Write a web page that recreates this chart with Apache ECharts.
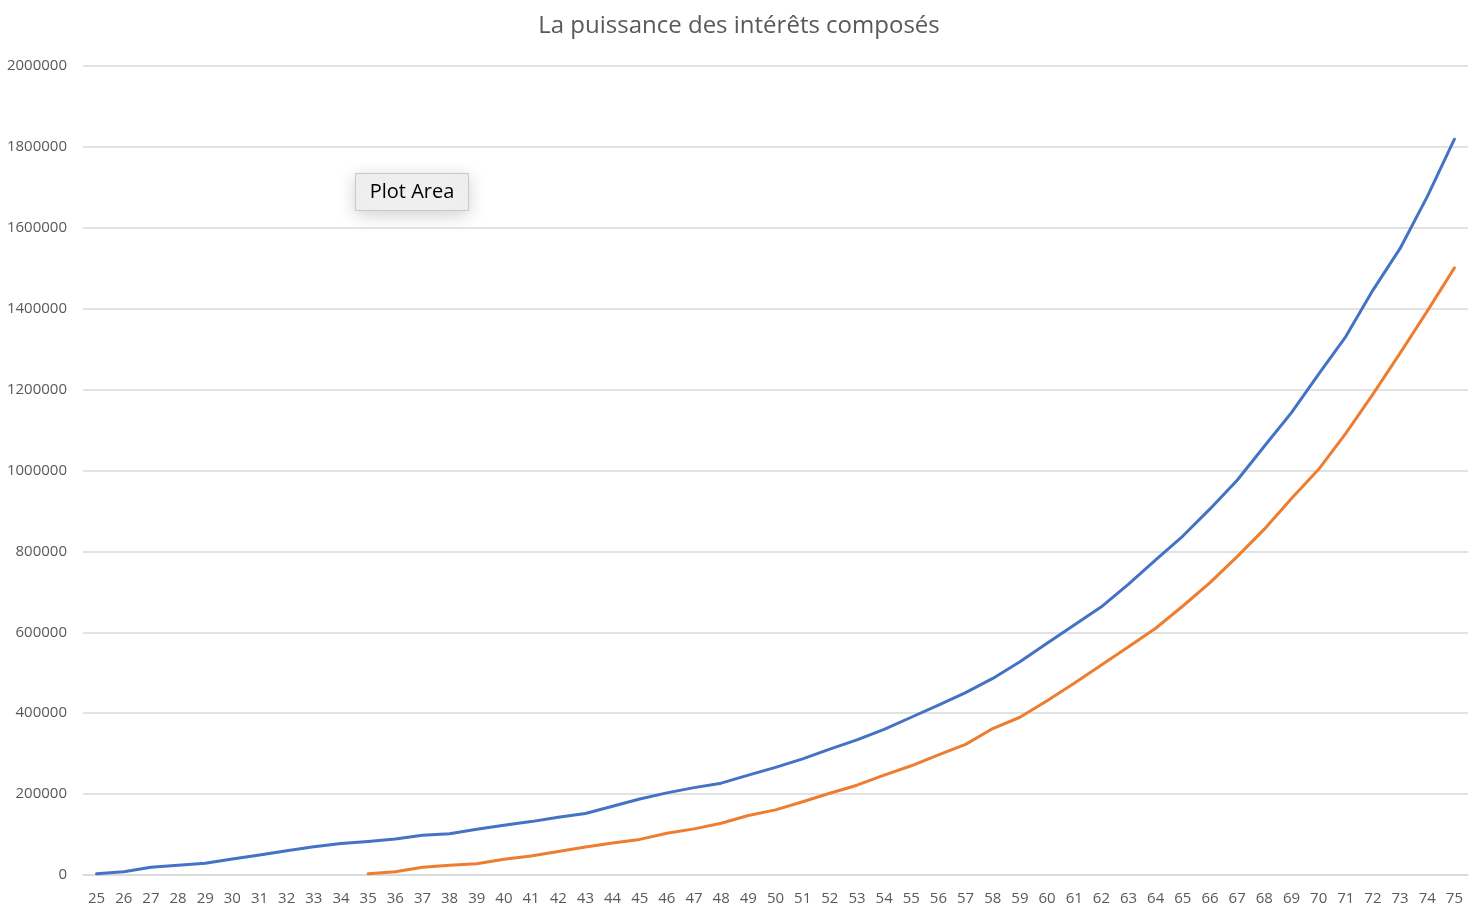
<!DOCTYPE html>
<html>
<head>
<meta charset="utf-8">
<script src="https://cdn.jsdelivr.net/npm/echarts@6/dist/echarts.min.js"></script>
<style>
html,body{margin:0;padding:0;background:#fff;}
#chart{width:1478px;height:918px;}
</style>
</head>
<body>
<div id="chart"></div>
<script>
const titleText = 'La puissance des intérêts composés';
const ages = ['25','26','27','28','29','30','31','32','33','34','35','36','37','38','39','40','41','42','43','44','45','46','47','48','49','50','51','52','53','54','55','56','57','58','59','60','61','62','63','64','65','66','67','68','69','70','71','72','73','74','75'];
const serieA = [3000,8000,19000,24000,29000,39500,49500,60000,70000,78000,83000,89000,98000,102000,113000,123000,132000,143000,152000,170000,188000,203000,216000,227000,247000,266000,287000,311000,334000,360000,390000,420000,451000,486000,527000,573000,618000,663000,719000,779000,838000,905000,976000,1060000,1143000,1238000,1331000,1446000,1549000,1677000,1819000];
const serieB = [null,null,null,null,null,null,null,null,null,null,3000,8000,19000,24000,28000,39000,47000,58000,69000,79000,88000,103000,114000,128000,147000,161000,181000,202000,222000,247000,270000,297000,323000,362000,390000,431000,474000,519000,564000,610000,665000,723000,787000,855000,931000,1003000,1092000,1189000,1290000,1394000,1501000];
const yTicks = {min:0, max:2000000, interval:200000};

const chart = echarts.init(document.getElementById('chart'), null, {renderer:'canvas'});
chart.setOption({
  backgroundColor:'#ffffff',
  animation:false,
  title:{
    text:titleText, left:'center', top:9,
    textStyle:{fontFamily:'Open Sans', fontSize:24, fontWeight:'normal', color:'#595959'}
  },
  grid:{left:83, right:10, top:66, bottom:43, containLabel:false},
  xAxis:{
    type:'category', data:ages, boundaryGap:true,
    axisLine:{show:true, lineStyle:{color:'#d9d9d9', width:1.5}},
    axisTick:{show:false},
    axisLabel:{interval:0, margin:16, color:'#595959', fontFamily:'Open Sans', fontSize:15}
  },
  yAxis:{
    type:'value', min:yTicks.min, max:yTicks.max, interval:yTicks.interval,
    axisLine:{show:false}, axisTick:{show:false},
    splitLine:{lineStyle:{color:'#d9d9d9', width:1.5}},
    axisLabel:{margin:16, color:'#595959', fontFamily:'Open Sans', fontSize:15,
      formatter:function(v){return String(v);}}
  },
  series:[
    {type:'line', data:serieA, showSymbol:false, smooth:false,
     lineStyle:{color:'#4472C4', width:3, cap:'round', join:'round'}, itemStyle:{color:'#4472C4'}},
    {type:'line', data:serieB, showSymbol:false, smooth:false, connectNulls:false,
     lineStyle:{color:'#ED7D31', width:3, cap:'round', join:'round'}, itemStyle:{color:'#ED7D31'}}
  ],
  graphic:[
    {type:'group', left:355, top:173, children:[
      {type:'rect', shape:{x:0,y:0,width:113,height:37},
       style:{fill:'#f0f0f0', stroke:'#c8c8c8', lineWidth:1, shadowBlur:18, shadowColor:'rgba(0,0,0,0.18)', shadowOffsetY:4}},
      {type:'text', x:56.5, y:19, style:{text:'Plot Area', fill:'#000000', fontFamily:'Open Sans', fontSize:20, align:'center', verticalAlign:'middle'}}
    ]}
  ]
});
</script>
</body>
</html>
